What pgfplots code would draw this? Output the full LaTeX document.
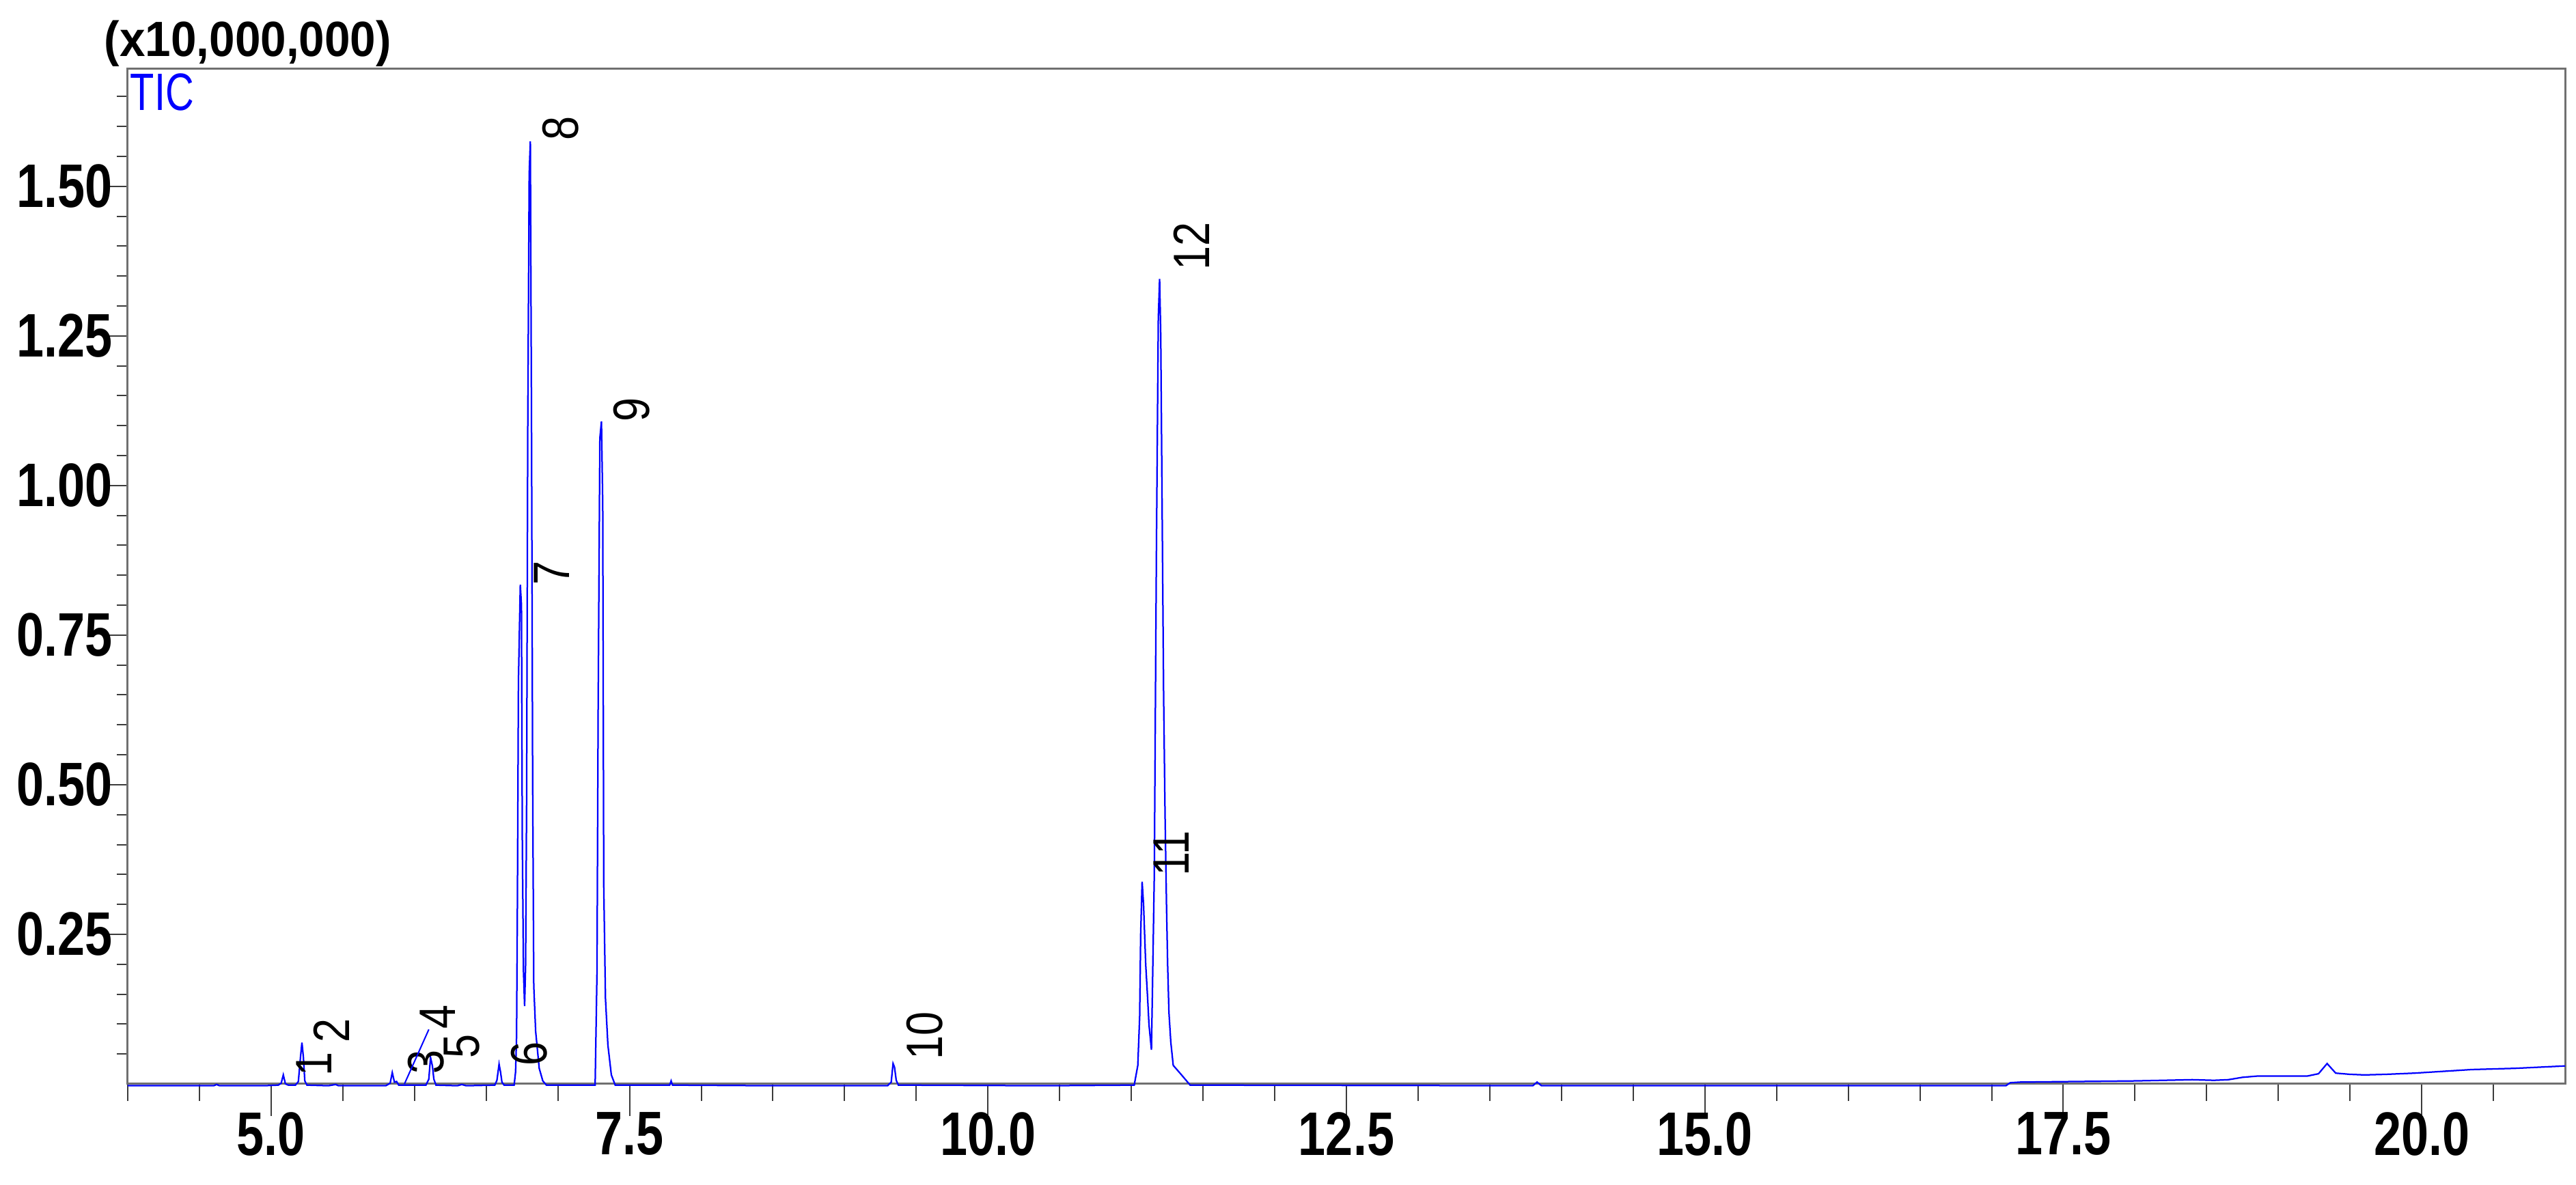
\documentclass[border=0pt]{standalone}
\usepackage{fontspec}
\setmainfont{Liberation Sans}
\newfontfamily\tickfont[FakeStretch=0.80]{Liberation Sans}
\newfontfamily\peakfont[FakeStretch=0.84]{Liberation Sans}
\newfontfamily\ticfont[FakeStretch=0.75]{Liberation Sans}
\newfontfamily\titlefont[FakeStretch=0.93]{Liberation Sans}
\usepackage{pgfplots}
\pgfplotsset{compat=1.18}
\definecolor{axisgray}{HTML}{707070}
\definecolor{tickgray}{HTML}{3C3C3C}
\definecolor{trace}{HTML}{0000FF}

% TIC trace, intensity in units of 1e7
\pgfplotstableread{
t      I
4.00  -0.003
4.60  -0.003
4.62  -0.001
4.64  -0.003
4.95  -0.003
5.05  -0.002
5.07   0.001
5.085  0.015
5.10   0.000
5.12  -0.002
5.17  -0.002
5.19   0.004
5.205  0.045
5.215  0.069
5.225  0.045
5.235  0.005
5.25  -0.002
5.40  -0.003
5.45  -0.001
5.47  -0.003
5.80  -0.003
5.83   0.001
5.845  0.019
5.86   0.003
5.875  0.004
5.89  -0.002
6.08  -0.002
6.10   0.008
6.112  0.044
6.125  0.030
6.135  0.008
6.15  -0.002
6.30  -0.003
6.33  -0.001
6.36  -0.003
6.56  -0.002
6.575  0.006
6.59   0.033
6.60   0.020
6.61   0.003
6.625 -0.002
6.695 -0.002
6.705  0.020
6.712  0.079
6.718  0.310
6.725  0.672
6.738  0.834
6.746  0.800
6.752  0.410
6.760  0.190
6.768  0.130
6.775  0.200
6.782  0.470
6.790  1.090
6.800  1.520
6.808  1.575
6.816  1.120
6.824  0.516
6.832  0.164
6.845  0.088
6.870  0.026
6.895  0.005
6.920 -0.002
7.260 -0.002
7.273  0.188
7.281  0.628
7.293  1.079
7.304  1.107
7.313  0.968
7.320  0.332
7.332  0.143
7.349  0.065
7.373  0.015
7.400 -0.002
7.780 -0.002
7.790  0.005
7.800 -0.002
8.500 -0.003
9.300 -0.003
9.325  0.003
9.338  0.034
9.348  0.028
9.360  0.006
9.375 -0.002
10.40 -0.003
11.02 -0.002
11.045 0.031
11.058 0.113
11.065 0.250
11.075 0.338
11.085 0.300
11.100 0.200
11.113 0.145
11.123 0.099
11.140 0.057
11.147 0.156
11.160 0.350
11.175 0.900
11.188 1.280
11.197 1.345
11.205 1.250
11.215 0.950
11.225 0.650
11.235 0.450
11.245 0.300
11.253 0.200
11.262 0.120
11.275 0.070
11.292 0.031
11.350 0.015
11.410 -0.002
13.80 -0.003
13.83  0.003
13.86 -0.003
17.10 -0.003
17.13  0.002
17.20  0.003
18.00  0.005
18.40  0.007
18.55  0.006
18.65  0.007
18.75  0.011
18.85  0.013
19.20  0.013
19.28  0.017
19.34  0.034
19.40  0.018
19.50  0.016
19.60  0.015
19.75  0.016
19.95  0.018
20.15  0.021
20.35  0.024
20.65  0.026
21.00  0.030
}\tic

\begin{document}
\begin{tikzpicture}
\begin{axis}[
    scale only axis,
    width=713.6pt, height=297.2pt,
    xmin=4, xmax=21, ymin=0, ymax=1.696,
    clip=false,
    axis line style={axisgray, line width=0.6pt},
    tick pos=left,
    tick align=outside,
    xtick={5,7.5,...,20},
    xticklabels={5.0,7.5,10.0,12.5,15.0,17.5,20.0},
    minor xtick={4,4.5,...,20.5},
    ytick={0.25,0.5,...,1.5},
    yticklabels={0.25,0.50,0.75,1.00,1.25,1.50},
    minor ytick={0.05,0.1,...,1.65},
    xtick style={tickgray, line width=0.4pt, /pgfplots/major tick length=9.4pt, /pgfplots/minor tick length=5pt},
    ytick style={tickgray, line width=0.4pt, /pgfplots/major tick length=6.2pt, /pgfplots/minor tick length=3.2pt},
    ticklabel style={font=\tickfont\bfseries\fontsize{18}{18}\selectfont, inner sep=0pt},
    xticklabel style={yshift=-3.8pt},
    yticklabel style={xshift=0pt},
]
\addplot[trace, line width=0.45pt] table[x=t, y=I] {\tic};

% peak numbers
\begin{scope}[every node/.style={rotate=90, inner sep=0pt, font=\peakfont\fontsize{15}{15}\selectfont}]
\node at (axis cs:5.30,0.033) {1};
\node at (axis cs:5.42,0.089) {2};
\node at (axis cs:6.08,0.037) {3};
\node at (axis cs:6.16,0.112) {4};
\node at (axis cs:6.33,0.063) {5};
\node at (axis cs:6.80,0.050) {6};
\node at (axis cs:6.956,0.854) {7};
\node at (axis cs:7.02,1.597) {8};
\node at (axis cs:7.516,1.127) {9};
\node at (axis cs:9.56,0.080) {10};
\node at (axis cs:11.28,0.385) {11};
\node at (axis cs:11.42,1.40) {12};
\end{scope}
\draw[trace, line width=0.4pt] (axis cs:5.93,0) -- (axis cs:6.10,0.091);

\node[anchor=base west, inner sep=0pt, xshift=-7pt, yshift=3.6pt,
      font=\titlefont\bfseries\fontsize{14.5}{14.5}\selectfont]
      at (rel axis cs:0,1) {(x10,000,000)};
\node[anchor=base west, inner sep=0pt, xshift=0.6pt, yshift=-12.2pt, text=trace,
      font=\ticfont\fontsize{15.4}{15.4}\selectfont]
      at (rel axis cs:0,1) {TIC};
\end{axis}
\pgfresetboundingbox
\path (-37.4pt,-29.6pt) rectangle (716.8pt,317.4pt);
\end{tikzpicture}
\end{document}
